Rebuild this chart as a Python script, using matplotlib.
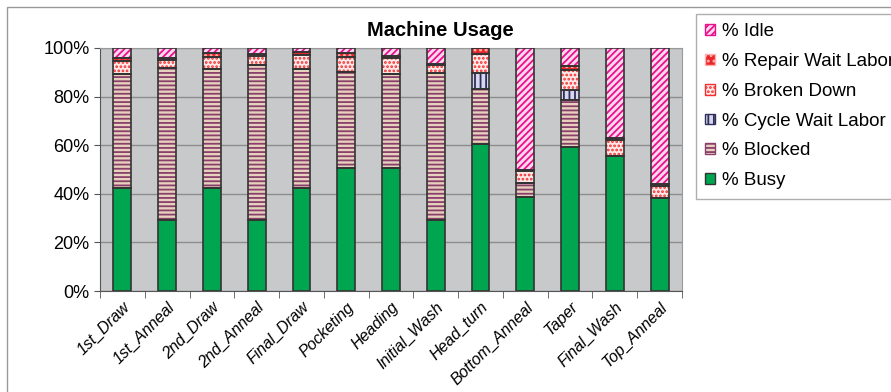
import numpy as np
import matplotlib.pyplot as plt
from matplotlib.patches import Patch, Rectangle
from matplotlib.ticker import FixedLocator, PercentFormatter

plt.rcParams['font.family'] = ['Liberation Sans', 'DejaVu Sans']
plt.rcParams['hatch.linewidth'] = 1.3

# data (percent of time)
machines = ["1st_Draw", "1st_Anneal", "2nd_Draw", "2nd_Anneal", "Final_Draw",
            "Pocketing", "Heading", "Initial_Wash", "Head_turn", "Bottom_Anneal",
            "Taper", "Final_Wash", "Top_Anneal"]
busy        = [42.5, 29.2, 42.5, 29.2, 42.5, 50.5, 50.5, 29.2, 60.4, 38.5, 59.1, 55.6, 38.4]
blocked     = [47.0, 62.6, 48.7, 63.8, 48.7, 39.6, 38.8, 60.4, 22.9,  5.9, 19.5,  0.0,  0.0]
cycle_wait  = [ 0.0,  0.0,  0.0,  0.0,  0.0,  0.0,  0.0,  0.0,  6.3,  0.0,  4.1,  0.0,  0.0]
broken_down = [ 5.3,  3.4,  5.0,  3.7,  5.8,  6.3,  6.6,  3.3,  7.9,  4.9,  8.2,  6.5,  5.0]
repair_wait = [ 1.2,  0.8,  1.6,  0.8,  1.2,  1.4,  0.8,  0.4,  2.5,  0.7,  1.8,  1.0,  0.5]
idle        = [ 4.0,  4.0,  2.2,  2.5,  1.8,  2.2,  3.3,  6.7,  0.0, 50.0,  7.3, 36.9, 56.1]

series = [
    ("% Busy", busy, "#00A550", None, None),
    ("% Blocked", blocked, "#E6D2BC", "----", "#8A3E6C"),
    ("% Cycle Wait Labor", cycle_wait, "#D6D6EE", "|||", "#2E2E5A"),
    ("% Broken Down", broken_down, "#FFE8E8", "....", "#F03030"),
    ("% Repair Wait Labor", repair_wait, "#E82828", "...", "#FFB0B0"),
    ("% Idle", idle, "#FFD8EE", "/////", "#E8108C"),
]

fig = plt.figure(figsize=(8.91, 3.92), dpi=100)
ax = fig.add_axes([100/891, 101/392, 582/891, 243/392])
ax.set_facecolor("#C8C9CB")

x = np.arange(len(machines))
w = 0.4
bottom = np.zeros(len(machines))
handles = []
for name, vals, fc, hatch, hc in series:
    vals = np.array(vals)
    if hatch:
        ax.bar(x, vals, w, bottom=bottom, color=fc, hatch=hatch, edgecolor=hc,
               linewidth=0, zorder=3)
    else:
        ax.bar(x, vals, w, bottom=bottom, color=fc, linewidth=0, zorder=3)
    ax.bar(x, vals, w, bottom=bottom, facecolor="none", edgecolor="#333333",
           linewidth=1.2, zorder=4)
    handles.append(Patch(facecolor=fc, hatch=hatch, edgecolor=hc if hatch else "#333333",
                         label=name))
    bottom += vals

ax.set_xlim(-0.5, len(machines) - 0.5)
ax.set_ylim(0, 100)
ax.yaxis.set_major_locator(FixedLocator([0, 20, 40, 60, 80, 100]))
ax.yaxis.set_major_formatter(PercentFormatter(decimals=0))
ax.grid(axis="y", color="#8C8C8C", linewidth=1, zorder=1)
ax.set_axisbelow(True)

ax.set_xticks(x)
ax.set_xticklabels(machines, rotation=45, ha="right", rotation_mode="anchor",
                   fontsize=11.5, style="italic")
ax.set_xticks(np.arange(len(machines) + 1) - 0.5, minor=True)
ax.tick_params(axis="x", which="major", length=0, pad=6)
ax.tick_params(axis="x", which="minor", length=5, color="#555555")
ax.tick_params(axis="y", labelsize=13, length=4, color="#555555")

for s in ["left", "bottom"]:
    ax.spines[s].set_color("#555555")
for s in ["top", "right"]:
    ax.spines[s].set_color("#9A9A9A")

fig.text(440/891, 1 - 30/392, "Machine Usage", ha="center", va="center",
         fontsize=14.5, fontweight="bold")

# legend in stacking order reversed
leg = fig.legend(handles=handles[::-1], loc="upper left",
                 bbox_to_anchor=(696/891, 1 - 14/392), fontsize=13.5,
                 handlelength=0.5, handleheight=0.5, handletextpad=0.4,
                 labelspacing=0.68, borderaxespad=0, frameon=True,
                 fancybox=False, edgecolor="#9A9A9A", borderpad=0.5)
leg.get_frame().set_linewidth(1)

# outer border of the chart
fig.patches.append(Rectangle((7/891, -0.1), 1.2, 1 - 7/392 + 0.1,
                             transform=fig.transFigure, fill=False,
                             edgecolor="#9A9A9A", linewidth=1))

fig.savefig("out.png", dpi=100)
